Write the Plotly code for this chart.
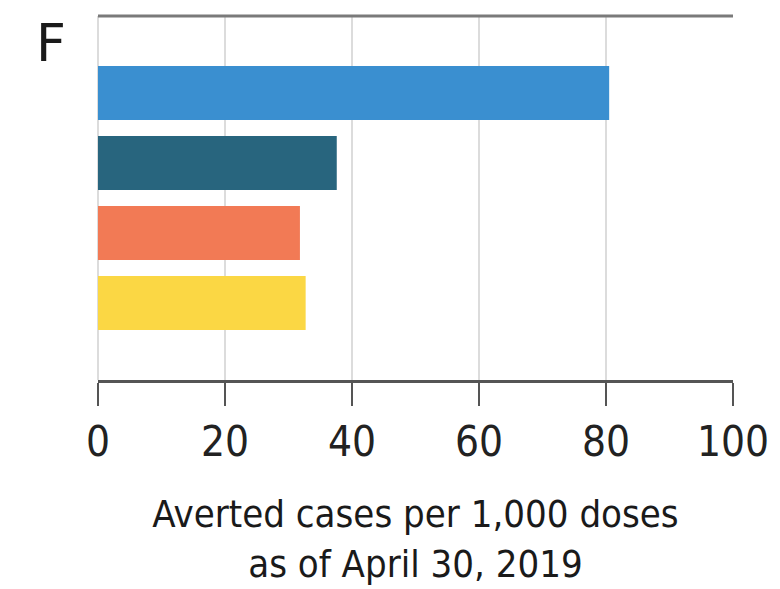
import plotly.graph_objects as go

# Datos del panel F
groups = ["Grupo 1", "Grupo 2", "Grupo 3", "Grupo 4"]
averted = [80.5, 37.6, 31.8, 32.7]
bar_colors = ["#3a8fd0", "#28657e", "#f27a55", "#fbd744"]
x_ticks = [0, 20, 40, 60, 80, 100]

narrow = "DejaVu Sans Condensed, Liberation Sans Narrow, Arial Narrow, sans-serif"

fig = go.Figure()

fig.add_trace(go.Bar(
    x=averted,
    y=groups,
    orientation="h",
    marker=dict(color=bar_colors, line=dict(width=0)),
    width=0.77,
    showlegend=False,
))

# la página añade 8px de margen al body; se compensa aquí
fig.update_layout(
    width=772,
    height=581,
    margin=dict(l=90, r=47, t=8, b=209, autoexpand=False),
    paper_bgcolor="white",
    plot_bgcolor="white",
    font=dict(family=narrow, color="#222222"),
)

fig.update_xaxes(
    range=[0, 100],
    tickvals=x_ticks,
    ticktext=[str(t) for t in x_ticks],
    tickfont=dict(family=narrow, size=42, color="#222222"),
    ticks="outside",
    ticklen=23,
    tickwidth=2,
    tickcolor="#555555",
    showline=True,
    linewidth=2.5,
    linecolor="#555555",
    showgrid=True,
    gridcolor="#dcdcdc",
    gridwidth=1.5,
    zeroline=True,
    zerolinecolor="#dcdcdc",
    zerolinewidth=1.5,
    automargin=False,
    title=dict(
        text="Averted cases per 1,000 doses<br>as of April 30, 2019",
        font=dict(family=narrow, size=38, color="#1a1a1a"),
        standoff=36,
    ),
)

fig.update_yaxes(
    range=[4.1, -1.1],
    showticklabels=False,
    showgrid=False,
    zeroline=False,
    showline=False,
    automargin=False,
)

# Línea superior del marco
fig.add_shape(
    type="line", xref="paper", yref="paper",
    x0=0, x1=1, y0=1, y1=1,
    line=dict(color="#7a7a7a", width=3),
)

# Etiqueta del panel
fig.add_annotation(
    text="F", xref="paper", yref="paper",
    x=-0.074, y=0.926, xanchor="center", yanchor="middle",
    showarrow=False,
    font=dict(family="DejaVu Sans, sans-serif", size=52, color="#1a1a1a"),
)

fig.write_html("out.html")
